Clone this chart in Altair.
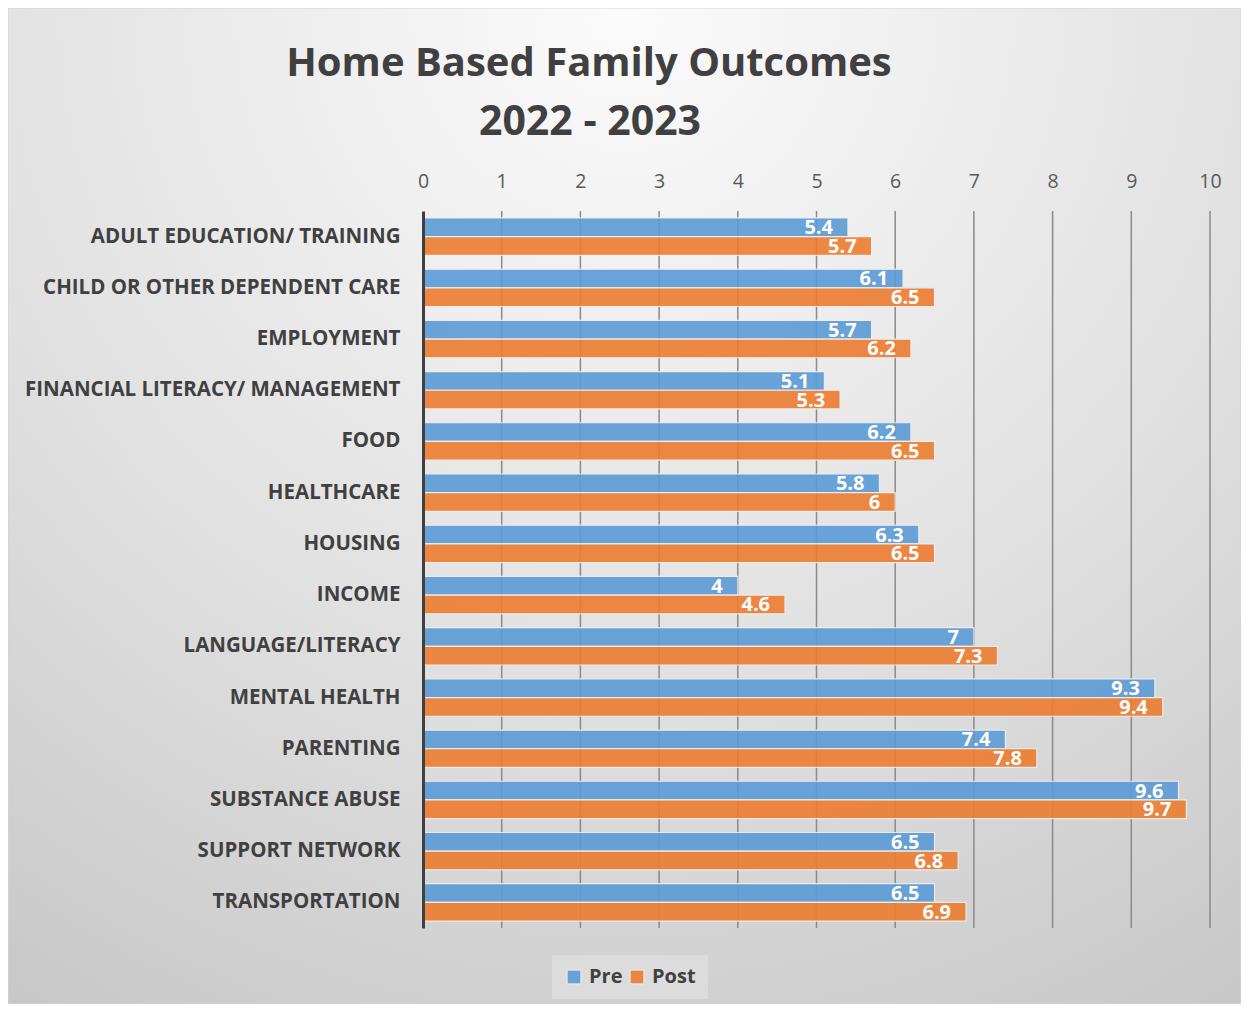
import altair as alt
import pandas as pd

categories = [
    "ADULT EDUCATION/ TRAINING",
    "CHILD OR OTHER DEPENDENT CARE",
    "EMPLOYMENT",
    "FINANCIAL LITERACY/ MANAGEMENT",
    "FOOD",
    "HEALTHCARE",
    "HOUSING",
    "INCOME",
    "LANGUAGE/LITERACY",
    "MENTAL HEALTH",
    "PARENTING",
    "SUBSTANCE ABUSE",
    "SUPPORT NETWORK",
    "TRANSPORTATION",
]
pre_values = [5.4, 6.1, 5.7, 5.1, 6.2, 5.8, 6.3, 4, 7, 9.3, 7.4, 9.6, 6.5, 6.5]
post_values = [5.7, 6.5, 6.2, 5.3, 6.5, 6, 6.5, 4.6, 7.3, 9.4, 7.8, 9.7, 6.8, 6.9]
series = ["Pre", "Post"]
series_colors = ["#5b9bd5", "#ed7d31"]
x_ticks = list(range(0, 11))
title_lines = ["Home Based Family Outcomes", "2022 - 2023"]

rows = []
for c, a, b in zip(categories, pre_values, post_values):
    rows.append({"category": c, "series": "Pre", "value": a, "label": f"{a:g}"})
    rows.append({"category": c, "series": "Post", "value": b, "label": f"{b:g}"})
df = pd.DataFrame(rows)
grid_df = pd.DataFrame({"tick": x_ticks[1:]})

W, H = 787, 717
PAD = {"left": 415, "top": 203, "right": 31, "bottom": 76}
FONT = "Open Sans"

bg = alt.Chart(alt.Data(values=[{}])).mark_rect(
    color={
        "gradient": "radial",
        "x1": 0.5, "y1": 0.1, "x2": 0.5, "y2": 0.1,
        "r1": 0, "r2": 1.0,
        "stops": [
            {"offset": 0, "color": "#fbfbfb"},
            {"offset": 0.55, "color": "#e0e0e0"},
            {"offset": 1, "color": "#c4c4c4"},
        ],
    },
    stroke="#d4d4d4",
    strokeWidth=1,
).encode(
    x=alt.value(-PAD["left"]), x2=alt.value(W + PAD["right"]),
    y=alt.value(-PAD["top"]), y2=alt.value(H + PAD["bottom"]),
)

title1 = alt.Chart(alt.Data(values=[{}])).mark_text(
    text=title_lines[0], font=FONT, fontSize=40, fontWeight="bold",
    color="#404040", align="center", baseline="middle",
).encode(x=alt.value(166), y=alt.value(-147))

title2 = alt.Chart(alt.Data(values=[{}])).mark_text(
    text=title_lines[1], font=FONT, fontSize=41, fontWeight="bold",
    color="#404040", align="center", baseline="middle",
).encode(x=alt.value(167), y=alt.value(-88))

xscale = alt.Scale(domain=[0, 10], nice=False)

grid = alt.Chart(grid_df).mark_rule(color="#8a8a8a", strokeWidth=1.5).encode(
    x=alt.X("tick:Q", scale=xscale),
    y=alt.value(0), y2=alt.value(H),
)

yenc = alt.Y(
    "category:N", sort=categories, title=None,
    scale=alt.Scale(paddingInner=0.27, paddingOuter=0.135),
    axis=alt.Axis(
        labelFont=FONT, labelFontSize=20.5, labelFontWeight="bold",
        labelColor="#404040", labelPadding=23, ticks=False,
        domainColor="#404040", domainWidth=3, labelLimit=500, zindex=1,
    ),
)
yoff = alt.YOffset("series:N", sort=series)

bars = alt.Chart(df).mark_bar(
    opacity=0.9, stroke="#eeeeee", strokeWidth=1.2
).encode(
    x=alt.X(
        "value:Q", scale=xscale, title=None,
        axis=alt.Axis(
            orient="top", values=x_ticks, format="d", grid=False, ticks=False,
            domain=False, labelFlush=False, labelFont=FONT, labelFontSize=19.5,
            labelColor="#595959", labelPadding=20, zindex=1,
        ),
    ),
    y=yenc,
    yOffset=yoff,
    color=alt.Color(
        "series:N",
        scale=alt.Scale(domain=series, range=series_colors),
        title=None,
        legend=alt.Legend(
            orient="none", legendX=129, legendY=744, direction="horizontal",
            fillColor="#dcdcdc", padding=12, symbolType="square",
            symbolSize=190, symbolStrokeColor="#f0f0f0", symbolStrokeWidth=1,
            symbolOpacity=0.9,
            labelFont=FONT, labelFontSize=20, labelFontWeight="bold",
            labelColor="#404040", labelOffset=5, columnPadding=4,
        ),
    ),
)

labels = alt.Chart(df).mark_text(
    align="right", baseline="middle", dx=-15, dy=1,
    font=FONT, fontSize=20, fontWeight="bold", color="white",
).encode(
    x=alt.X("value:Q", scale=xscale),
    y=alt.Y("category:N", sort=categories),
    yOffset=yoff,
    text="label:N",
)

chart = alt.layer(bg, title1, title2, grid, bars, labels).properties(
    width=W, height=H,
    autosize=alt.AutoSizeParams(type="none"),
    padding=PAD,
).configure_view(stroke=None).configure(background="#d8d8d8")

chart.save("out.html", embed_options={"renderer": "svg", "actions": False})
